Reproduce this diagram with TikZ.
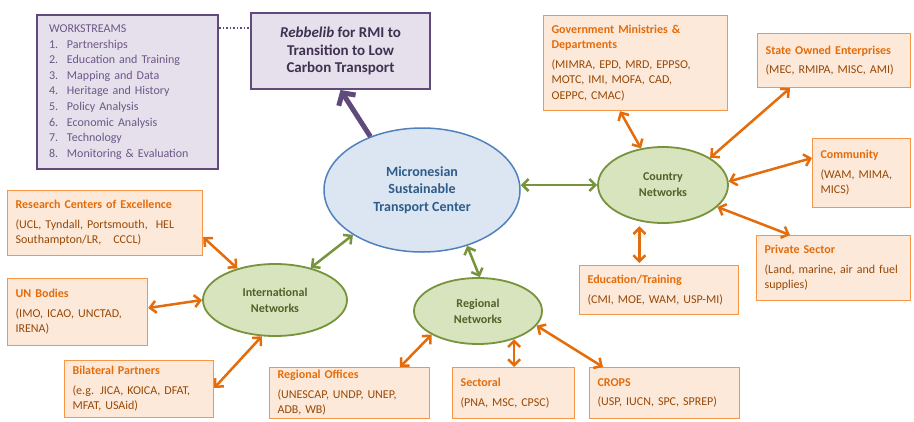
\documentclass[tikz,border=0pt]{standalone}
\usepackage{fontspec}
\setmainfont{Carlito}
\usetikzlibrary{shapes.geometric,arrows.meta,calc}
\definecolor{orgB}{HTML}{F79646}
\definecolor{orgF}{HTML}{FDE9D9}
\definecolor{orgH}{HTML}{E46C0A}
\definecolor{orgT}{HTML}{974806}
\definecolor{purB}{HTML}{604A7B}
\definecolor{purF}{HTML}{E6E0EC}
\definecolor{purT}{HTML}{3F3151}
\definecolor{purW}{HTML}{6B5886}
\definecolor{grnB}{HTML}{77933C}
\definecolor{grnF}{HTML}{D7E4BD}
\definecolor{grnT}{HTML}{4F6228}
\definecolor{bluB}{HTML}{4F81BD}
\definecolor{bluF}{HTML}{DCE6F2}
\definecolor{bluT}{HTML}{2E5C8A}
\newcommand\boxhead[1]{{\bfseries\color{orgH}#1}\\[4pt]}
\newcommand\wsitem[2]{\makebox[18pt][l]{#1}#2}
\begin{document}
\begin{tikzpicture}[x=1pt,y=-1pt,
  obox/.style={rectangle,draw=orgB,fill=orgF,line width=1.2pt,anchor=north west,
    inner xsep=8pt,inner ysep=2pt,align=left,text=orgT,
    font=\fontsize{12}{15.5}\selectfont},
  pbox/.style={rectangle,draw=purB,fill=purF,line width=2pt,anchor=north west,inner sep=0pt},
  gell/.style={ellipse,draw=grnB,fill=grnF,line width=1.8pt,inner sep=0pt,align=center,
    text=grnT,font=\bfseries\fontsize{12}{16}\selectfont},
  bell/.style={ellipse,draw=bluB,fill=bluF,line width=1.5pt,inner sep=0pt,align=center,
    text=bluT,font=\bfseries\fontsize{14}{17.5}\selectfont},
  oarr/.style={draw=orgH,line width=2.5pt,{Straight Barb[length=6pt,width=12pt]}-{Straight Barb[length=6pt,width=12pt]}},
  garr/.style={draw=grnB,line width=2.5pt,{Straight Barb[length=6pt,width=12pt]}-{Straight Barb[length=6pt,width=12pt]}},
  parr/.style={draw=purB,line width=5pt,-{Straight Barb[length=9pt,width=20pt]}},
  wsdot/.style={draw=purB,line width=1.5pt,dash pattern=on 1.5pt off 2pt}]
\fill[white] (0,0) rectangle (914,421);
\useasboundingbox (0,0) rectangle (914,421);

% purple boxes
\node[pbox,minimum width=181pt,minimum height=154pt,text width=157pt,inner xsep=12pt,align=left,
  text=purW,font=\fontsize{12}{15.6}\selectfont] (ws) at (36,14)
  {WORKSTREAMS\\
   \wsitem{1.}{Partnerships}\\
   \wsitem{2.}{Education and Training}\\
   \wsitem{3.}{Mapping and Data}\\
   \wsitem{4.}{Heritage and History}\\
   \wsitem{5.}{Policy Analysis}\\
   \wsitem{6.}{Economic Analysis}\\
   \wsitem{7.}{Technology}\\
   \wsitem{8.}{Monitoring \& Evaluation}};
\node[pbox,minimum width=179pt,minimum height=76pt,align=center,text=purT,
  font=\bfseries\fontsize{15}{17.5}\selectfont] (reb) at (250,12)
  {\textit{Rebbelib} for RMI to\\Transition to Low\\Carbon Transport};

% ellipses
\node[bell,minimum width=196pt,minimum height=124pt] (central) at (422,190)
  {Micronesian\\Sustainable\\Transport Center};
\node[gell,minimum width=130pt,minimum height=76pt] (country) at (663,185) {Country\\Networks};
\node[gell,minimum width=144pt,minimum height=72pt] (intl) at (275,300) {International\\Networks};
\node[gell,minimum width=128pt,minimum height=66pt] (regional) at (478,311) {Regional\\Networks};

% orange boxes
\node[obox,text width=168pt,minimum height=95pt] (gov) at (543,15)
  {\boxhead{Government Ministries \&\\Departments}(MIMRA, EPD, MRD, EPPSO,\\MOTC, IMI, MOFA, CAD,\\OEPPC, CMAC)};
\node[obox,text width=137pt,minimum height=54pt] (soe) at (757,33)
  {\boxhead{State Owned Enterprises}(MEC, RMIPA, MISC, AMI)};
\node[obox,text width=82pt,minimum height=69pt] (com) at (812,138)
  {\boxhead{Community}(WAM, MIMA,\\MICS)};
\node[obox,text width=138pt,minimum height=65pt] (priv) at (756,235)
  {\boxhead{Private Sector}(Land, marine, air and fuel\\supplies)};
\node[obox,text width=143pt,minimum height=49pt] (edu) at (579,265)
  {\boxhead{Education/Training}(CMI, MOE, WAM, USP-MI)};
\node[obox,text width=134pt,minimum height=51pt] (crops) at (589,367)
  {\boxhead{CROPS}(USP, IUCN, SPC, SPREP)};
\node[obox,text width=106pt,minimum height=51pt] (sect) at (452,367)
  {\boxhead{Sectoral}(PNA, MSC, CPSC)};
\node[obox,text width=144pt,minimum height=51pt] (regoff) at (269,367)
  {\boxhead{Regional Offices}(UNESCAP, UNDP, UNEP,\\ADB, WB)};
\node[obox,text width=133pt,minimum height=57pt] (bil) at (64,360)
  {\boxhead{Bilateral Partners}(e.g. JICA, KOICA, DFAT,\\MFAT, USAid)};
\node[obox,text width=124pt,minimum height=67pt] (un) at (7,278)
  {\boxhead{UN Bodies}(IMO, ICAO, UNCTAD,\\IRENA)};
\node[obox,text width=179pt,minimum height=65pt] (res) at (7,190)
  {\boxhead{Research Centers of Excellence}(UCL, Tyndall, Portsmouth,\ \ HEL\\Southampton/LR,\ \ \ CCCL)};

% connectors
\draw[parr] (central.134) -- (reb.south);
\draw[wsdot] ($(ws.north east)+(0,-14pt)$) -- ($(reb.north west)+(0,-16pt)$);
\draw[garr] (central.east |- country.west) -- (country.west);
\draw[garr] (central.213) -- (intl.42);
\draw[garr] (central.309) -- (regional.87);
\draw[oarr] ($(gov.south west)+(77pt,0)$) -- (country.121);
\draw[oarr] ($(soe.south west)+(33pt,0)$) -- (country.30);
\draw[oarr] ($(com.north west)+(0,-20pt)$) -- (country.3);
\draw[oarr] ($(priv.north west)+(34pt,0)$) -- (country.338);
\draw[oarr,shorten <=5pt,shorten >=2pt] (country.237) -- (country.237 |- edu.north);
\draw[oarr] ($(res.south east)+(0,19pt)$) -- (intl.140);
\draw[oarr] ($(un.north east)+(0,-30pt)$) -- (intl.west);
\draw[oarr] ($(bil.north east)+(0,-28pt)$) -- (intl.250);
\draw[oarr] ($(regoff.north west)+(131pt,0)$) -- (regional.207);
\draw[oarr] (regional.322) -- (regional.322 |- sect.north);
\draw[oarr] ($(crops.north west)+(14pt,0)$) -- (regional.346);
\end{tikzpicture}
\end{document}
